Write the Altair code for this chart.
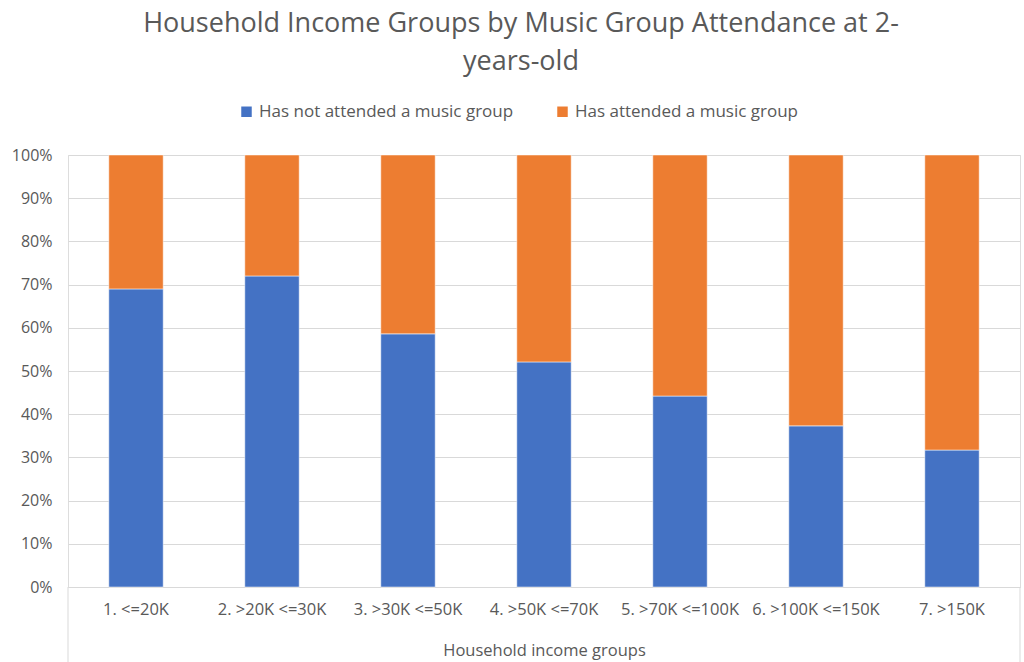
import altair as alt
import pandas as pd

categories = ["1. <=20K", "2. >20K <=30K", "3. >30K <=50K", "4. >50K <=70K",
              "5. >70K <=100K", "6. >100K <=150K", "7. >150K"]
not_attended = [0.69, 0.72, 0.586, 0.521, 0.442, 0.373, 0.317]
series = ["Has not attended a music group", "Has attended a music group"]
colors = ["#4472C4", "#ED7D31"]

rows = []
for c, v in zip(categories, not_attended):
    rows.append({"group": c, "series": series[0], "value": v, "order": 0})
    rows.append({"group": c, "series": series[1], "value": 1 - v, "order": 1})
df = pd.DataFrame(rows)

FONT = "Open Sans"
GREY = "#595959"
W, H = 952, 432

bars = alt.Chart(df).mark_bar(stroke="white", strokeWidth=0.5).encode(
    x=alt.X("group:N", sort=categories,
            scale=alt.Scale(paddingInner=0.6, paddingOuter=0.3),
            axis=alt.Axis(title="Household income groups", labelAngle=0, labelFontSize=16.5,
                          labelColor=GREY, labelFont=FONT, labelPadding=14, ticks=False,
                          domainColor="#d9d9d9", titleFont=FONT, titleFontSize=16.5,
                          titleColor=GREY, titleFontWeight="normal", titlePadding=25)),
    y=alt.Y("value:Q", stack="zero", scale=alt.Scale(domain=[0, 1]),
            axis=alt.Axis(title=None, format=".0%", values=[i / 10 for i in range(11)],
                          labelFontSize=16, labelColor=GREY, labelFont=FONT, labelPadding=16,
                          ticks=False, domain=False, gridColor="#d9d9d9")),
    color=alt.Color("series:N", scale=alt.Scale(domain=series, range=colors),
                    legend=alt.Legend(title=None, orient="none", legendX=170, legendY=-52,
                                      direction="horizontal", symbolType="square",
                                      symbolSize=110, symbolStrokeWidth=0,
                                      labelFontSize=17, labelColor=GREY, labelFont=FONT,
                                      labelLimit=0, columnPadding=40)),
    order=alt.Order("order:Q"),
)

left_rule = alt.Chart(pd.DataFrame({"a": [0]})).mark_rule(color="#d9d9d9").encode(
    x=alt.value(0), y=alt.value(H), y2=alt.value(H + 80))
right_rule = alt.Chart(pd.DataFrame({"a": [0]})).mark_rule(color="#d9d9d9").encode(
    x=alt.value(W), y=alt.value(H), y2=alt.value(H + 80))

chart = alt.layer(bars, left_rule, right_rule).properties(
    width=W, height=H,
    autosize=alt.AutoSizeParams(type="none"),
    padding={"left": 68, "top": 155, "right": 4, "bottom": 75},
    title=alt.TitleParams(
        text=["Household Income Groups by Music Group Attendance at 2-", "years-old"],
        font=FONT, fontSize=27, fontWeight="normal", color=GREY,
        anchor="middle", offset=27, lineHeight=38, dx=-23),
).configure_view(stroke=None).configure(background="white")

chart.save("out.html", embed_options={"renderer": "svg", "actions": False})
